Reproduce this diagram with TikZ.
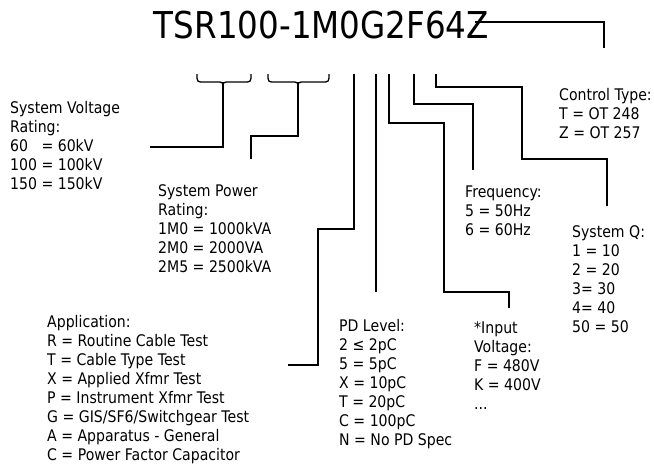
\documentclass[tikz,border=0pt]{standalone}
\usepackage{fontspec}
\setmainfont{DejaVu Sans}[FakeStretch=0.88]
\usetikzlibrary{positioning}
\tikzset{
  codetitle/.style={font=\fontsize{37}{40}\selectfont, inner sep=0pt, anchor=base},
  keytext/.style={font=\fontsize{16}{19}\selectfont, align=left, inner sep=0pt, anchor=base west},
  tapline/.style={draw=black, line width=1.3pt},
  bracket/.style={draw=black, line width=1.3pt, line join=round}
}

\begin{document}
\begin{tikzpicture}[x=1pt, y=-1pt]
  \useasboundingbox (0,0) rectangle (654,467);
  \node[codetitle] (code) at (321.5,38) {TSR100-1M0G2F64Z};
  % legend blocks (placed at the baseline of their last line)
  \node[keytext] (voltage) at (10,189) {System Voltage\\Rating:\\60\ \ \ = 60kV\\100 = 100kV\\150 = 150kV};
  \node[keytext] (power) at (158,272) {System Power\\Rating:\\1M0 = 1000kVA\\2M0 = 2000VA\\2M5 = 2500kVA};
  \node[keytext] (application) at (47,460) {Application:\\R = Routine Cable Test\\T = Cable Type Test\\X = Applied Xfmr Test\\P = Instrument Xfmr Test\\G = GIS/SF6/Switchgear Test\\A = Apparatus - General\\C = Power Factor Capacitor};
  \node[keytext] (pdlevel) at (339,445) {PD Level:\\2 ≤ 2pC\\5 = 5pC\\X = 10pC\\T = 20pC\\C = 100pC\\N = No PD Spec};
  \node[keytext] (input) at (474,409) {*Input\\Voltage:\\F = 480V\\K = 400V\\...};
  \node[keytext] (freq) at (465,235) {Frequency:\\5 = 50Hz\\6 = 60Hz};
  \node[keytext] (sysq) at (572,332) {System Q:\\1 = 10\\2 = 20\\3= 30\\4= 40\\50 = 50};
  \node[keytext] (control) at (559,138) {Control Type:\\T = OT 248\\Z = OT 257};
  % tap points under the code
  \coordinate (vtap) at (223,82);
  \coordinate (ptap) at (298,82);
  \coordinate (atap) at (354,74);
  \coordinate (dtap) at (376,74);
  \coordinate (itap) at (389,74);
  \coordinate (ftap) at (414,74);
  \coordinate (qtap) at (436,74);
  \coordinate (ctap) at (475,22);
  % free ends near the legend blocks
  \coordinate (vend) at (150,147);
  \coordinate (pend) at (251,159);
  \coordinate (aend) at (288,365);
  \coordinate (dend) at (376,292);
  \coordinate (iend) at (509,308);
  \coordinate (fend) at (473,170);
  \coordinate (qend) at (607,206);
  \coordinate (cend) at (604,48);
  % braces
  \draw[bracket] (197,74) .. controls (197,82) .. (204,82) -- (216,82) .. controls (223,82) .. (223,88);
  \draw[bracket] (251,74) .. controls (251,82) .. (244,82) -- (230,82) .. controls (223,82) .. (223,88);
  \draw[bracket] (268,74) .. controls (268,82) .. (275,82) -- (291,82) .. controls (298,82) .. (298,88);
  \draw[bracket] (329,74) .. controls (329,82) .. (322,82) -- (305,82) .. controls (298,82) .. (298,88);
  % connectors
  \draw[tapline] (vtap) |- (vend);
  \draw[tapline] (ptap) -- ++(0,54) -| (pend);
  \draw[tapline] (atap) -- ++(0,155) -| ++(-36,136) -- (aend);
  \draw[tapline] (dtap) -- (dend);
  \draw[tapline] (itap) -- ++(0,49) -| ++(55,169) -| (iend);
  \draw[tapline] (ftap) -- ++(0,30) -| (fend);
  \draw[tapline] (qtap) -- ++(0,13) -| ++(86,72) -| (qend);
  \draw[tapline] (ctap) -| (cend);
\end{tikzpicture}
\end{document}
